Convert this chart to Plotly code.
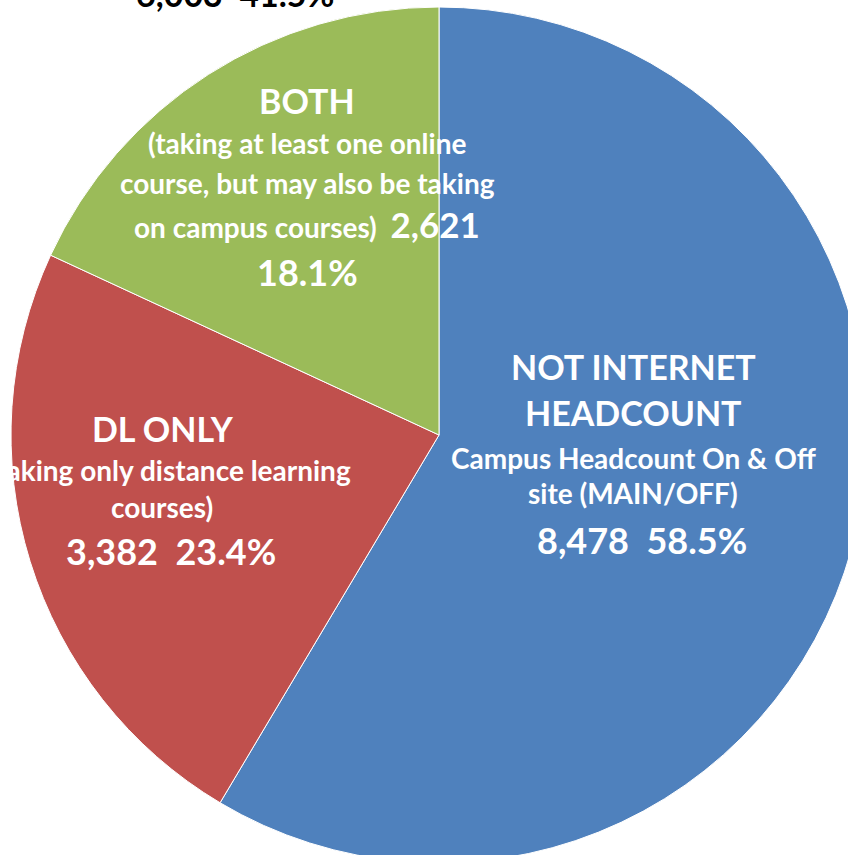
import plotly.graph_objects as go

# ---- data ----
categories = ["NOT INTERNET HEADCOUNT", "DL ONLY", "BOTH"]
values = [8478, 3382, 2621]
colors = ["#4F81BD", "#C0504D", "#9BBB59"]

total = sum(values)
pcts = [v / total * 100 for v in values]
fmt_v = [f"{v:,}" for v in values]
fmt_p = [f"{p:.1f}%" for p in pcts]
combined_v = f"{values[1] + values[2]:,}"
combined_p = f"{pcts[1] + pcts[2]:.1f}%"

W, H = 880, 880
FONT = "Lato"
BIG, NUM, SMALL = 34, 36, 28

fig = go.Figure(go.Pie(
    labels=categories,
    values=values,
    marker=dict(colors=colors, line=dict(color="white", width=1)),
    sort=False,
    direction="clockwise",
    rotation=0,
    textinfo="none",
    hoverinfo="label+value+percent",
    showlegend=False,
    domain=dict(x=[11 / W, 867 / W], y=[1 - 863 / H, 1 - 7 / H]),
))

# label lines: (text, x_px, y_px, size, color)
num_span = f"<span style='font-size:{NUM - 1}px'>{{}}</span>"
lines = [
    (f"{combined_v}  {combined_p}", 235, -6, BIG, "black"),
    ("BOTH", 307, 100, BIG, "white"),
    ("(taking at least one online", 307, 143, SMALL, "white"),
    ("course, but may also be taking", 307, 183, SMALL, "white"),
    ("on campus courses)  " + num_span.format(fmt_v[2]), 307, 224, SMALL, "white"),
    (fmt_p[2], 307, 272, NUM, "white"),
    ("DL ONLY", 163, 428, BIG, "white"),
    ("(taking only distance learning", 170, 470, SMALL, "white"),
    ("courses)", 162, 507, SMALL, "white"),
    (f"{fmt_v[1]}  {fmt_p[1]}", 171, 551, NUM, "white"),
    ("NOT INTERNET", 633, 367, BIG, "white"),
    ("HEADCOUNT", 633, 413, BIG, "white"),
    ("Campus Headcount On & Off", 633, 458, SMALL, "white"),
    ("site (MAIN/OFF)", 633, 493, SMALL, "white"),
    (f"{fmt_v[0]}  {fmt_p[0]}", 642, 540, NUM, "white"),
]

for text, xp, yp, size, col in lines:
    fig.add_annotation(
        x=xp / W, y=1 - yp / H, xref="paper", yref="paper",
        xanchor="center", yanchor="middle", showarrow=False,
        text=text,
        font=dict(family=FONT, size=size, color=col, weight="bold"),
    )

fig.update_layout(
    width=W, height=H,
    margin=dict(l=0, r=0, t=0, b=0),
    paper_bgcolor="white",
    plot_bgcolor="white",
)

fig.write_html(
    "out.html",
    config={"displayModeBar": False},
    post_script="document.body.style.margin='0';document.body.style.overflow='hidden';",
)
